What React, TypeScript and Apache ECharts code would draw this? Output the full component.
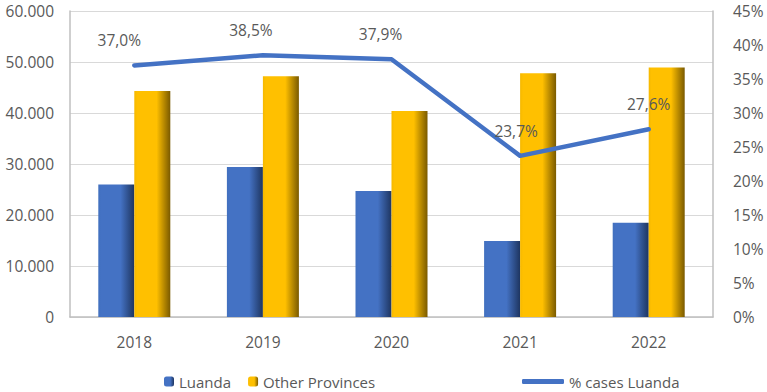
import React, { useEffect, useRef } from "react";
import * as echarts from "echarts";

const years = ["2018", "2019", "2020", "2021", "2022"];
const luanda = [26000, 29400, 24700, 14900, 18500];
const otherProvinces = [44300, 47200, 40400, 47800, 48900];
const pctLuanda = [37.0, 38.5, 37.9, 23.7, 27.6];

// horizontal nudges of the percentage labels (style only)
const labelDx = [-15, -12, -11, -4, 0];

const blueGrad = new echarts.graphic.LinearGradient(0, 0, 1, 0, [
  { offset: 0, color: "#4170BE" },
  { offset: 0.08, color: "#4472C4" },
  { offset: 0.62, color: "#4472C4" },
  { offset: 1, color: "#1E3560" },
]);
const goldGrad = new echarts.graphic.LinearGradient(0, 0, 1, 0, [
  { offset: 0, color: "#F5B800" },
  { offset: 0.08, color: "#FFC000" },
  { offset: 0.62, color: "#FFC000" },
  { offset: 1, color: "#7A5A00" },
]);

const font = "'Open Sans', sans-serif";
const txt = "#595959";
const fs = 15.5;

export default function App() {
  const ref = useRef<HTMLDivElement>(null);
  useEffect(() => {
    if (!ref.current) return;
    const chart = echarts.init(ref.current, undefined, { renderer: "svg" });
    chart.setOption({
      animation: false,
      textStyle: { fontFamily: font },
      grid: { left: 70, right: 54, top: 11, bottom: 75 },
      legend: [
        {
          data: ["Luanda", "Other Provinces"],
          left: 159,
          top: 369,
          itemWidth: 10,
          itemHeight: 10,
          itemGap: 17,
          textStyle: { color: txt, fontSize: 15, fontFamily: font },
        },
        {
          data: [{ name: "% cases Luanda", icon: "roundRect" }],
          left: 517,
          top: 369,
          itemWidth: 42,
          itemHeight: 5,
          itemGap: 4,
          itemStyle: { color: "#4472C4", opacity: 1 },
          textStyle: { color: txt, fontSize: 15, fontFamily: font },
        },
      ],
      xAxis: {
        type: "category",
        data: years,
        axisLine: { lineStyle: { color: "#BFBFBF", width: 1.5 } },
        axisTick: { show: false },
        axisLabel: { color: txt, fontSize: fs, margin: 17, fontFamily: font },
      },
      yAxis: [
        {
          type: "value",
          min: 0,
          max: 60000,
          interval: 10000,
          axisLine: { show: true, lineStyle: { color: "#BFBFBF", width: 1.5 } },
          axisTick: { show: false },
          splitLine: { lineStyle: { color: "#D9D9D9", width: 1.2 } },
          axisLabel: {
            color: txt,
            fontSize: fs,
            margin: 16,
            fontFamily: font,
            formatter: (v: number) => (v === 0 ? "0" : (v / 1000).toFixed(3)),
          },
        },
        {
          type: "value",
          min: 0,
          max: 45,
          interval: 5,
          position: "right",
          axisLine: { show: true, lineStyle: { color: "#BFBFBF", width: 1.5 } },
          axisTick: { show: false },
          splitLine: { show: false },
          axisLabel: {
            color: txt,
            fontSize: fs,
            margin: 20,
            fontFamily: font,
            formatter: (v: number) => v + "%",
          },
        },
      ],
      series: [
        {
          name: "Luanda",
          type: "bar",
          data: luanda,
          barWidth: 36,
          barGap: "0%",
          itemStyle: { color: blueGrad },
        },
        {
          name: "Other Provinces",
          type: "bar",
          data: otherProvinces,
          barWidth: 36,
          itemStyle: { color: goldGrad },
        },
        {
          name: "% cases Luanda",
          type: "line",
          yAxisIndex: 1,
          data: pctLuanda.map((v, i) => ({
            value: v,
            label: { offset: [labelDx[i], 0] },
          })),
          symbol: "circle",
          symbolSize: 2,
          showSymbol: true,
          lineStyle: { color: "#4472C4", width: 4.5, cap: "round", join: "round" },
          itemStyle: { color: "#4472C4" },
          label: {
            show: true,
            position: "top",
            distance: 16,
            color: txt,
            fontSize: fs,
            fontFamily: font,
            formatter: (p: any) => Number(p.value).toFixed(1).replace(".", ",") + "%",
          },
        },
      ],
    });
    return () => chart.dispose();
  }, []);
  return (
    <div
      ref={ref}
      style={{ position: "absolute", left: 0, top: 0, width: 767, height: 392 }}
    />
  );
}
